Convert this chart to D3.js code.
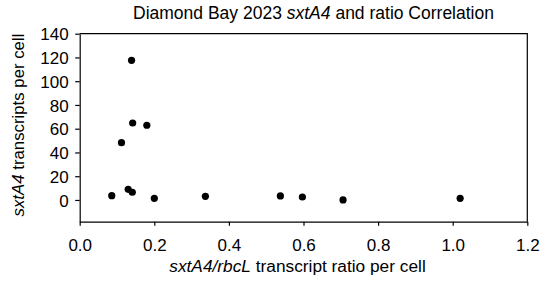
<!DOCTYPE html>
<html>
<head>
<meta charset="utf-8">
<script src="https://cdn.jsdelivr.net/npm/d3@7"></script>
<style>
  html, body { margin: 0; padding: 0; background: #fff; }
  svg { display: block; font-family: Arial, "Liberation Sans", sans-serif; }
</style>
</head>
<body>
<svg id="chart" width="550" height="284"></svg>
<script>
// Data
const ratio = [0.086, 0.112, 0.130, 0.139, 0.141, 0.142, 0.180, 0.200, 0.337, 0.538, 0.597, 0.706, 1.020];
const transcripts = [3.6, 48.2, 9.0, 117.6, 6.5, 64.8, 62.9, 1.4, 3.1, 3.4, 2.5, 0.0, 1.4];
const xTicks = [0.0, 0.2, 0.4, 0.6, 0.8, 1.0, 1.2];
const yTicks = [0, 20, 40, 60, 80, 100, 120, 140];

const svg = d3.select("#chart");
const W = 550, H = 284;
const margin = { top: 33.7, right: 22.7, bottom: 62.3, left: 79.7 };
const yMin = -18.3;
const x = d3.scaleLinear().domain([0, 1.2]).range([margin.left, W - margin.right]);
const y = d3.scaleLinear().domain([yMin, 140]).range([H - margin.bottom, margin.top]);

// Frame (top and right)
svg.append("path")
  .attr("d", `M${x(0)},${y(140)}H${x(1.2)}V${y(yMin)}`)
  .attr("fill", "none").attr("stroke", "#000").attr("stroke-width", 1.2);

// X axis
const xAxis = svg.append("g")
  .attr("transform", `translate(0,${y(yMin)})`)
  .call(d3.axisBottom(x).tickValues(xTicks).tickFormat(d3.format(".1f")).tickSize(4).tickSizeOuter(0).tickPadding(13));
// Y axis
const yAxis = svg.append("g")
  .attr("transform", `translate(${x(0)},0)`)
  .call(d3.axisLeft(y).tickValues(yTicks).tickFormat(d3.format("d")).tickSize(4.5).tickSizeOuter(0).tickPadding(6.5));

[xAxis, yAxis].forEach(g => {
  g.select(".domain").attr("stroke", "#000").attr("stroke-width", 1.2);
  g.selectAll(".tick line").attr("stroke", "#000").attr("stroke-width", 1.2);
  g.selectAll(".tick text").attr("fill", "#000").style("font-size", "17px").style("font-family", "Arial, 'Liberation Sans', sans-serif");
});
yAxis.selectAll(".tick text").attr("dy", "0.36em");
xAxis.selectAll(".tick text").attr("dy", "0.71em");

// Points
svg.append("g").selectAll("circle")
  .data(ratio.map((r, i) => [r, transcripts[i]]))
  .join("circle")
  .attr("cx", d => x(d[0]))
  .attr("cy", d => y(d[1]))
  .attr("r", 3.6)
  .attr("fill", "#000");

// Title
const title = svg.append("text")
  .attr("x", 313.5).attr("y", 18.5)
  .attr("text-anchor", "middle")
  .style("font-size", "17.5px").attr("fill", "#000");
title.append("tspan").text("Diamond Bay 2023 ");
title.append("tspan").attr("font-style", "italic").text("sxtA4");
title.append("tspan").text(" and ratio Correlation");

// X label
const xl = svg.append("text")
  .attr("x", 297.5).attr("y", 271.5)
  .attr("text-anchor", "middle")
  .style("font-size", "17.3px").attr("fill", "#000");
xl.append("tspan").attr("font-style", "italic").text("sxtA4/rbcL");
xl.append("tspan").text(" transcript ratio per cell");

// Y label
const yl = svg.append("text")
  .attr("transform", `translate(23.5,125) rotate(-90)`)
  .attr("text-anchor", "middle")
  .style("font-size", "16.8px").attr("fill", "#000");
yl.append("tspan").attr("font-style", "italic").text("sxtA4");
yl.append("tspan").text(" transcripts per cell");
</script>
</body>
</html>
